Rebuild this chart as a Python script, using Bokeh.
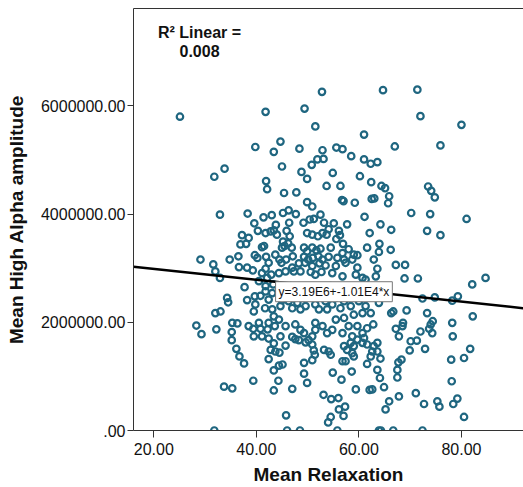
from bokeh.plotting import figure
from bokeh.models import Range1d, FixedTicker, CustomJSTickFormatter, Label, LinearAxis
from bokeh.embed import file_html
from bokeh.resources import INLINE

FONT = "Liberation Sans"
POINT_COLOR = "#1F6680"
AXIS_COLOR = "#333333"

# Mean Relaxation (x) and Mean High Alpha amplitude in millions (y)
x_relax = [
    25.1, 41.8, 49.4, 52.8, 64.7, 71.4, 72.0, 80.0, 51.5, 61.0,
    67.0, 75.9, 44.7, 39.8, 43.4, 48.4, 52.9, 55.6, 56.8, 58.5,
    61.0, 62.3, 63.6, 50.8, 51.9, 53.1, 45.0, 33.8, 31.8, 48.8,
    49.9, 54.9, 60.2, 62.4, 41.9, 42.1, 45.4, 47.8, 53.7, 56.4,
    64.4, 65.1, 65.9, 65.7, 73.5, 74.1, 74.8, 56.7, 57.0, 59.2,
    62.5, 63.0, 49.9, 50.9,
    32.9, 38.3, 41.4, 43.0, 45.2, 46.3, 47.7, 52.5, 51.2, 50.4,
    39.6, 40.3, 43.8, 46.4, 49.2, 53.2, 55.1, 57.7, 61.1, 64.2,
    66.3, 70.2, 73.9, 81.0, 73.3, 75.9, 49.9, 52.0, 52.9, 53.7,
    55.6, 56.3, 56.9, 62.1, 64.0, 61.6, 66.2, 49.3, 50.9, 52.5,
    54.5, 42.8, 44.0, 46.5, 37.2, 38.5, 36.9, 38.0, 41.5, 45.2,
    45.5, 41.8, 43.4, 45.9, 50.9, 41.1, 46.2, 45.0, 46.9, 49.9,
    51.7, 63.9, 54.1, 56.1, 58.0, 56.8, 55.8, 58.7, 59.7, 59.7,
    57.4, 55.5, 62.9, 63.6, 67.2, 69.0, 68.9, 71.5, 59.0, 57.1,
    84.7, 82.1, 82.2, 81.7, 80.5, 79.3, 78.2, 78.2, 78.3, 78.0,
    78.1, 74.8, 73.3, 74.4, 74.0, 73.7, 72.0, 72.4, 69.3, 66.7,
    66.3, 68.6, 68.5, 67.2, 70.1, 71.3, 69.9, 72.9, 68.3, 67.7,
    67.5, 67.5, 64.1, 64.9, 62.6, 63.6, 61.6, 64.2, 60.7, 63.9,
    62.3, 62.8, 61.6, 63.6, 59.0, 62.3,
    54.1, 55.5, 57.1, 54.8, 56.4, 58.4, 60.0, 61.3, 59.0, 60.7,
    57.1, 55.5, 58.0, 59.7, 60.7, 58.7, 56.8, 54.8, 74.3, 67.8,
    64.2, 54.8, 56.8, 59.4, 61.3, 63.3, 46.7, 48.6, 51.5, 54.5,
    57.4, 60.3, 63.3,
    29.1, 31.6, 32.0, 32.9, 34.8, 36.5, 39.7, 40.2, 41.9, 43.7,
    44.5, 45.8, 47.1, 49.3, 50.1, 51.0, 52.1, 52.9, 54.1, 36.6,
    38.2, 39.3, 41.8, 42.4, 44.9, 47.0, 48.3, 49.5, 50.9, 52.3,
    53.5, 37.7, 41.1, 42.1, 42.9, 44.4, 45.7, 47.3, 48.6, 50.6,
    51.5, 52.7, 40.5, 41.8, 41.8, 40.8, 39.7, 43.1, 44.7, 34.3,
    34.5, 43.3,
    38.2, 39.8, 42.4, 45.0, 46.3, 48.0, 49.1, 50.6, 51.5, 53.5,
    41.7, 43.1, 44.7, 47.0, 48.6, 49.6, 52.2, 53.8, 33.0, 32.0,
    35.3, 36.3, 38.5, 40.5, 40.8, 42.4, 43.4, 44.4, 43.6, 45.7,
    47.6, 48.6, 49.3, 51.5, 51.5, 52.9, 53.8, 41.1, 44.7, 47.0,
    50.9, 28.3, 29.3, 32.2, 35.2, 39.4, 42.2, 39.5,
    35.2, 36.1, 36.7, 37.6, 39.5, 42.4, 42.8, 43.4, 43.7, 44.5,
    45.7, 42.4, 43.4, 44.4, 45.1, 44.3, 43.4, 39.4, 33.7, 35.3,
    47.0, 47.6, 48.3, 49.6, 50.2, 50.9, 51.2, 51.4, 50.9, 49.3,
    49.3, 49.9, 53.2, 54.1, 54.5, 54.9, 56.6, 58.6, 59.4, 56.8,
    57.4, 57.1, 57.7, 58.4, 59.0, 58.7, 59.7, 60.7, 61.0, 61.6,
    62.6, 63.6, 62.9, 62.1, 53.1, 54.6, 56.0, 57.3, 56.1, 57.0,
    54.5, 54.0, 45.8, 65.9, 65.2, 67.8, 71.1, 72.7, 75.3, 75.7,
    78.4, 79.2, 80.5,
    31.8, 46.0, 48.5, 55.8, 63.9, 64.3, 66.7, 72.4,
]
y_alpha_mil = [
    5.80, 5.89, 5.95, 6.26, 6.29, 6.30, 5.81, 5.65, 5.62, 5.47,
    5.25, 5.27, 5.34, 5.24, 5.15, 5.21, 5.18, 5.23, 5.20, 5.07,
    5.01, 4.93, 4.96, 4.91, 5.01, 5.02, 4.88, 4.84, 4.69, 4.78,
    4.65, 4.76, 4.70, 4.59, 4.61, 4.46, 4.39, 4.40, 4.52, 4.52,
    4.52, 4.48, 4.33, 4.20, 4.51, 4.43, 4.31, 4.26, 4.24, 4.21,
    4.28, 4.29, 4.22, 4.14,
    3.99, 4.01, 3.94, 3.98, 4.02, 4.07, 4.00, 3.99, 3.91, 3.90,
    3.83, 3.69, 3.80, 3.84, 3.84, 3.84, 3.83, 3.81, 3.95, 3.81,
    3.71, 4.02, 4.00, 3.91, 3.69, 3.61, 3.65, 3.59, 3.65, 3.62,
    3.54, 3.61, 3.45, 3.65, 3.45, 3.38, 3.34, 3.38, 3.38, 3.36,
    3.38, 3.68, 3.62, 3.59, 3.61, 3.56, 3.44, 3.45, 3.41, 3.49,
    3.41, 3.65, 3.70, 3.69, 3.62, 3.39, 3.46, 3.38, 3.38, 3.31,
    3.33, 3.30, 3.72, 3.69, 3.35, 3.28, 3.19, 3.16, 3.24, 3.01,
    3.10, 3.04, 3.16, 2.99, 3.06, 3.06, 2.81, 2.81, 3.25, 3.16,
    2.82, 2.70, 2.11, 1.51, 1.34, 2.48, 2.40, 1.99, 1.74, 1.31,
    0.91, 2.46, 2.17, 2.02, 1.96, 1.88, 1.83, 2.44, 2.22, 2.20,
    2.17, 1.99, 1.93, 1.88, 1.65, 1.66, 1.48, 1.51, 1.31, 1.26,
    1.12, 0.98, 0.97, 0.80, 0.76, 1.12, 1.23, 1.33, 2.82, 2.36,
    2.17, 1.96, 1.89, 1.62, 1.37, 1.37,
    2.51, 2.45, 2.39, 2.33, 2.26, 2.30, 2.39, 2.30, 2.14, 2.17,
    2.08, 2.05, 1.93, 1.93, 1.80, 1.74, 1.80, 1.86, 1.80, 1.74,
    2.51, 2.91, 2.85, 2.88, 2.79, 2.85, 2.67, 2.57, 2.61, 2.67,
    2.57, 2.67, 2.54,
    3.16, 3.07, 2.94, 2.82, 3.16, 3.22, 3.24, 3.19, 3.21, 3.25,
    3.16, 3.16, 3.22, 3.21, 3.16, 3.19, 3.22, 3.16, 3.21, 3.02,
    3.01, 2.96, 2.99, 3.10, 3.10, 3.01, 3.09, 3.10, 3.04, 3.09,
    3.05, 2.65, 2.91, 2.82, 2.88, 2.91, 2.94, 2.94, 2.94, 2.93,
    2.88, 2.93, 2.76, 2.67, 2.57, 2.49, 2.48, 2.54, 2.48, 2.45,
    2.37, 2.70,
    2.41, 2.33, 2.42, 2.41, 2.39, 2.36, 2.45, 2.48, 2.33, 2.39,
    2.26, 2.24, 2.30, 2.26, 2.24, 2.30, 2.24, 2.24, 2.20, 2.17,
    1.99, 1.98, 1.93, 1.99, 1.88, 1.99, 2.11, 2.05, 1.93, 1.93,
    1.96, 1.86, 1.80, 1.99, 1.86, 1.93, 1.80, 1.74, 1.74, 1.73,
    1.74, 1.94, 1.78, 1.87, 1.82, 1.88, 1.87, 2.20,
    1.67, 1.51, 1.37, 1.24, 1.74, 1.70, 1.49, 1.61, 1.46, 1.44,
    1.57, 1.32, 1.11, 1.20, 1.22, 0.92, 0.74, 0.92, 0.81, 0.78,
    0.77, 1.69, 1.67, 1.63, 1.67, 1.59, 1.48, 1.40, 1.30, 1.25,
    1.05, 0.88, 1.49, 1.46, 1.40, 1.07, 0.94, 1.09, 0.76, 1.28,
    1.28, 1.56, 1.49, 1.62, 1.56, 1.43, 1.68, 1.62, 1.71, 1.59,
    1.46, 1.46, 1.56, 0.75, 0.66, 0.58, 0.60, 0.44, 0.39, 0.27,
    0.25, 0.15, 0.28, 0.54, 0.39, 0.63, 0.69, 0.49, 0.54, 0.44,
    0.49, 0.59, 0.25,
    0.00, 0.00, 0.00, 0.00, 0.00, 0.00, 0.00, 0.00,
]
y_alpha = [v * 1e6 for v in y_alpha_mil]

# Linear fit reported on the chart
FIT_INTERCEPT = 3.19e6
FIT_SLOPE = -1.01e4
EQ_TEXT = "y=3.19E6+-1.01E4*x"
R2_TITLE = "R\u00b2 Linear ="
R2_VALUE = "0.008"

x_ticks = [20, 40, 60, 80]
y_ticks = [0, 2000000, 4000000, 6000000]
X_START, X_END = 16.04, 92.1
Y_START, Y_END = 0, 7.8e6

p = figure(width=523, height=487,
           x_range=Range1d(X_START, X_END), y_range=Range1d(Y_START, Y_END),
           output_backend="svg", toolbar_location=None,
           min_border_left=133, min_border_right=0, min_border_top=8, min_border_bottom=0)
p.grid.visible = False
p.outline_line_color = None
p.background_fill_color = "white"
p.border_fill_color = "white"

fmt_code = "return tick.toFixed(2).replace(/^0\\./, '.');"

xa = p.xaxis[0]
ya = p.yaxis[0]
for ax in (xa, ya):
    ax.major_tick_in = 0
    ax.minor_tick_line_color = None
    ax.axis_line_color = AXIS_COLOR
    ax.major_tick_line_color = AXIS_COLOR
    ax.major_label_text_font = FONT
    ax.major_label_text_font_size = "16px"
    ax.major_label_text_color = "#111111"
    ax.axis_label_text_font = FONT
    ax.axis_label_text_font_size = "19px"
    ax.axis_label_text_font_style = "bold"
    ax.axis_label_text_color = "#111111"
    ax.formatter = CustomJSTickFormatter(code=fmt_code)

xa.ticker = FixedTicker(ticks=x_ticks)
ya.ticker = FixedTicker(ticks=y_ticks)
xa.axis_label = "Mean Relaxation"
ya.axis_label = "Mean High Alpha amplitude"
xa.major_tick_out = 7
ya.major_tick_out = 6
xa.major_label_standoff = 5
ya.major_label_standoff = 2
xa.axis_label_standoff = 6
ya.axis_label_standoff = 11

top = LinearAxis(ticker=FixedTicker(ticks=[]), major_tick_out=0, major_tick_in=0,
                 minor_tick_out=0, minor_tick_in=0, major_label_standoff=0,
                 axis_line_color=AXIS_COLOR)
p.add_layout(top, "above")

p.scatter(x_relax, y_alpha, marker="circle", size=6.5, fill_color=None,
          line_color=POINT_COLOR, line_width=2.2)

fit_x = [X_START, X_END]
fit_y = [FIT_INTERCEPT + FIT_SLOPE * v for v in fit_x]
p.line(fit_x, fit_y, line_color="black", line_width=2.5)

p.add_layout(Label(x=43.75, y=2.565e6, text=EQ_TEXT, text_font=FONT, text_font_size="12px",
                   text_color="#111111", text_align="left", text_baseline="middle",
                   background_fill_color="white", border_line_color="#777777",
                   border_line_width=1, padding=3))
p.add_layout(Label(x=28.92, y=7.352e6, text=R2_TITLE, text_font=FONT, text_font_size="16px",
                   text_font_style="bold", text_color="#111111", text_align="center",
                   text_baseline="alphabetic"))
p.add_layout(Label(x=28.92, y=7.019e6, text=R2_VALUE, text_font=FONT, text_font_size="16px",
                   text_font_style="bold", text_color="#111111", text_align="center",
                   text_baseline="alphabetic"))

open("out.html", "w").write(file_html(p, INLINE))
